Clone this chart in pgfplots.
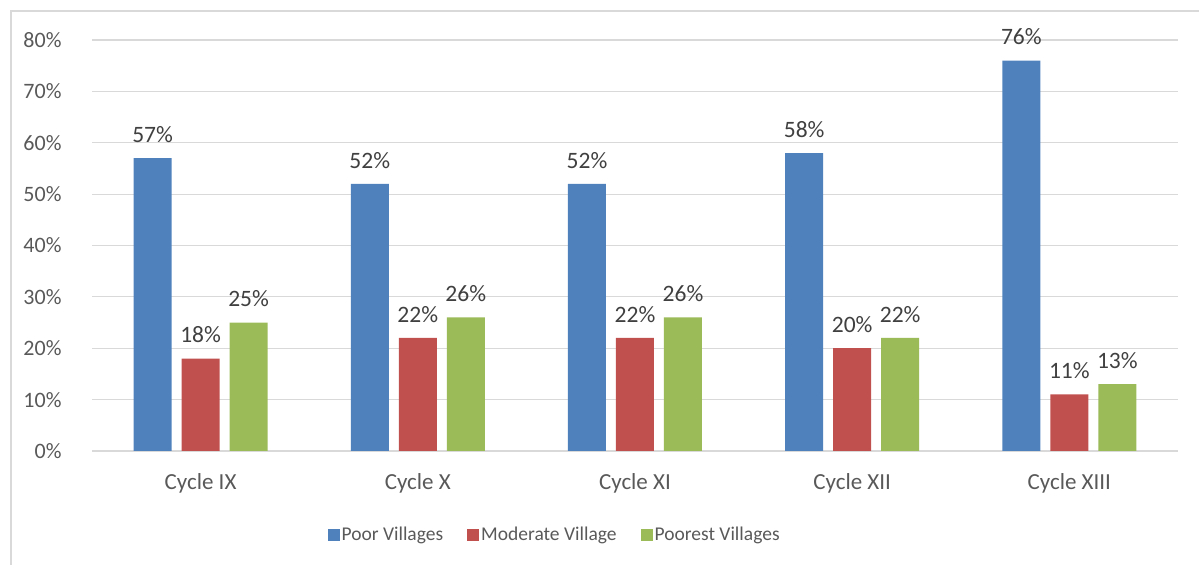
\documentclass[border=0pt]{standalone}
\usepackage{fontspec}
\setmainfont{Carlito}
\usepackage{pgfplots}
\pgfplotsset{compat=1.18}
\definecolor{cBlue}{HTML}{4F81BD}
\definecolor{cRed}{HTML}{C0504D}
\definecolor{cGreen}{HTML}{9BBB59}
\definecolor{gridc}{HTML}{D9D9D9}
\definecolor{tickc}{HTML}{595959}
\definecolor{labc}{HTML}{404040}
\begin{document}
\begin{tikzpicture}[x=1bp,y=1bp]
\useasboundingbox (0,0) rectangle (1199,565);
\draw[color=gridc, line width=1.3bp] (11,0) -- (11,554) -- (1199,554);
\begin{axis}[
  at={(92bp,114bp)}, anchor=south west,
  scale only axis, width=1086bp, height=411bp,
  xmin=-0.5, xmax=4.5, ymin=0, ymax=80,
  axis line style={draw=none},
  ymajorgrids, grid style={color=gridc, line width=1.1bp},
  major tick style={draw=none},
  ytick={0,10,...,80},
  xtick={0,1,2,3,4},
  xticklabels={Cycle IX, Cycle X, Cycle XI, Cycle XII, Cycle XIII},
  /pgf/number format/assume math mode=true,
  yticklabel={\pgfmathprintnumber{\tick}\%},
  tick label style={font=\fontsize{22bp}{26bp}\selectfont, text=tickc},
  yticklabel style={xshift=-27bp},
  xticklabel style={yshift=-15bp, font=\fontsize{23bp}{26bp}\selectfont},
  ybar, bar width=38bp,
  nodes near coords={\pgfmathprintnumber{\pgfplotspointmeta}\%},
  every node near coord/.append style={font=\fontsize{23.5bp}{26bp}\selectfont, text=labc, yshift=12bp},
  legend columns=3,
  legend style={draw=none, fill=none, at={(0.426,-0.204)}, anchor=center,
    font=\fontsize{19.5bp}{24bp}\selectfont, text=tickc,
    /tikz/every even column/.append style={column sep=22bp}},
  legend image code/.code={\fill[#1] (0bp,-6bp) rectangle (12bp,6bp);},
]
\addplot[fill=cBlue, draw=none, bar shift=-48bp] coordinates {(0,57) (1,52) (2,52) (3,58) (4,76)};
\addlegendentry{Poor Villages}
\addplot[fill=cRed, draw=none, bar shift=0bp] coordinates {(0,18) (1,22) (2,22) (3,20) (4,11)};
\addlegendentry{Moderate Village}
\addplot[fill=cGreen, draw=none, bar shift=48bp] coordinates {(0,25) (1,26) (2,26) (3,22) (4,13)};
\addlegendentry{Poorest Villages}
\end{axis}
\end{tikzpicture}
\end{document}
